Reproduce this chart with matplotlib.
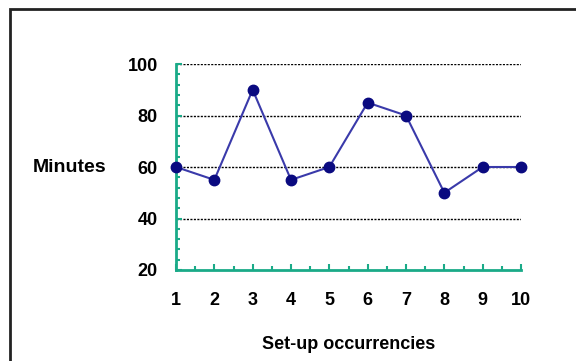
import numpy as np
import matplotlib.pyplot as plt
from matplotlib.patches import Rectangle
from matplotlib.ticker import MultipleLocator

plt.switch_backend('Agg')
plt.rcParams['font.family'] = ['Liberation Sans', 'DejaVu Sans']

occurrence = [1, 2, 3, 4, 5, 6, 7, 8, 9, 10]
minutes = [60, 55, 90, 55, 60, 85, 80, 50, 60, 60]
grid_levels = [40, 60, 80, 100]

axis_green = '#1aaa88'

fig = plt.figure(figsize=(5.76, 3.61), dpi=100)
fig.patch.set_facecolor('white')

# outer frame (only top/left edges fall inside the image)
fig.patches.append(Rectangle((10 / 576, -0.2), 1.2, 1.2 - 9 / 361,
                             transform=fig.transFigure, fill=False,
                             edgecolor='#222222', linewidth=2.0))

ax = fig.add_axes([176 / 576, 91 / 361, 345 / 576, 206 / 361])
ax.set_xlim(1, 10)
ax.set_ylim(20, 100)

for lvl in grid_levels:
    ax.axhline(lvl, color='black', linewidth=1.0, linestyle=(0, (1.5, 1.0)),
               zorder=1)

ax.plot(occurrence, minutes, color='#3a3aaa', linewidth=1.5, zorder=3,
        clip_on=False)
ax.plot(occurrence, minutes, linestyle='none', marker='o', markersize=7.5,
        color='#0a0a80', zorder=4, clip_on=False)

for side in ['top', 'right']:
    ax.spines[side].set_visible(False)
for side in ['left', 'bottom']:
    ax.spines[side].set_color(axis_green)
    ax.spines[side].set_linewidth(2.0)

ax.set_xticks(occurrence)
ax.set_yticks([20, 40, 60, 80, 100])
ax.xaxis.set_minor_locator(MultipleLocator(0.5))
ax.yaxis.set_minor_locator(MultipleLocator(4))
ax.tick_params(axis='both', which='both', direction='in', color=axis_green,
               width=1.5)
ax.tick_params(axis='both', which='major', length=4)
ax.tick_params(axis='both', which='minor', length=3)
ax.tick_params(axis='y', which='major', pad=13, labelsize=13)
ax.tick_params(axis='x', which='major', pad=16, labelsize=13)
for lab in ax.get_xticklabels() + ax.get_yticklabels():
    lab.set_fontweight('bold')

ax.set_xlabel('Set-up occurrencies', fontsize=13, fontweight='bold',
              labelpad=19)
fig.text(70 / 576, 1 - 167 / 361, 'Minutes', fontsize=14, fontweight='bold',
         ha='center', va='center')

fig.savefig('out.png', dpi=100)
